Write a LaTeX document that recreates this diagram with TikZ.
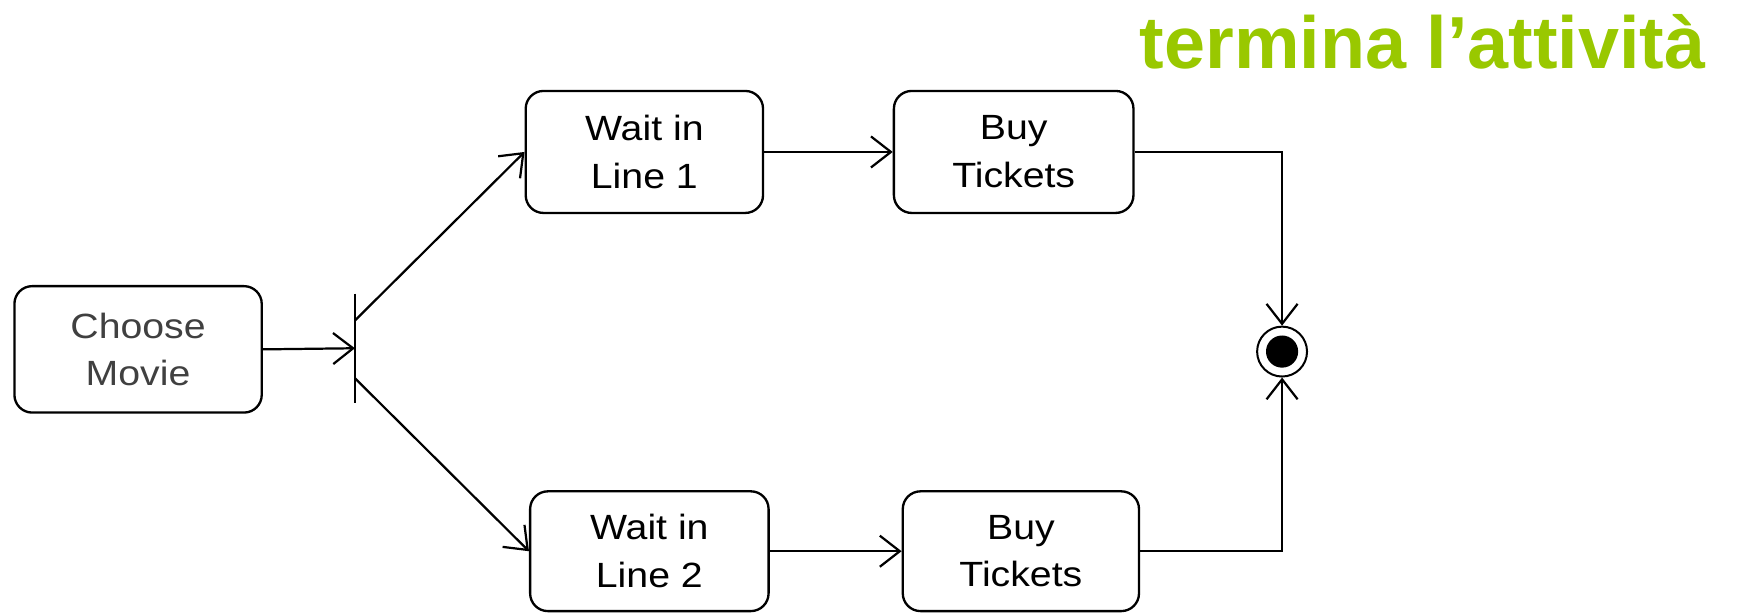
\documentclass[tikz,border=0pt]{standalone}
\usepackage{fontspec}
\setmainfont{Liberation Sans}
\newfontfamily\boxfont[FakeStretch=1.12]{Liberation Sans}
\usetikzlibrary{arrows.meta}
\definecolor{titlegreen}{RGB}{153,200,0}
\definecolor{softgray}{RGB}{64,64,64}
\tikzset{
  activity/.style={draw, line width=2.1pt, rounded corners=16pt, align=center,
    inner sep=0pt, font=\boxfont\fontsize{31.6}{43}\selectfont},
  flow/.style={line width=2pt, -{Straight Barb[length=18pt,width=28pt]}},
  plain/.style={line width=2pt},
}
\begin{document}
\begin{tikzpicture}[x=1pt,y=-1pt]
\useasboundingbox (0,0) rectangle (1568,552.7);
% title
\node[anchor=base east, inner sep=0pt, text=titlegreen,
      font=\bfseries\fontsize{66.5}{70}\selectfont] (title) at (1538,62) {termina l’attività};
% activities
\node[activity, minimum width=223pt, minimum height=114pt, text=softgray] (choose) at (124.5,315) {Choose\\Movie};
\node[activity, minimum width=214pt, minimum height=110pt] (wait1) at (581,137) {Wait in\\Line 1};
\node[activity, minimum width=216pt, minimum height=110pt] (buy1) at (914,137) {Buy\\Tickets};
\node[activity, minimum width=215pt, minimum height=108pt] (wait2) at (585.5,497) {Wait in\\Line 2};
\node[activity, minimum width=213pt, minimum height=108pt] (buy2) at (920.5,497) {Buy\\Tickets};
% fork bar
\node[inner sep=0pt, minimum width=0pt, minimum height=98pt] (bar) at (320,314) {};
\draw[plain] (bar.north) -- (bar.south);
\coordinate (b1) at (320,289);
\coordinate (b2) at (320,341);
% final node
\node[circle, draw, line width=1.8pt, minimum size=45pt, inner sep=0pt] (fin) at (1156,317) {};
\fill (fin.center) circle (14.5pt);
% flows
\draw[flow] (choose.east) -- (bar.center);
\draw[flow] (b1) -- (wait1.west);
\draw[flow] (b2) -- (wait2.west);
\draw[flow] (wait1.east) -- (buy1.west);
\draw[flow] (wait2.east) -- (buy2.west);
\draw[flow] (buy1.east) -| (fin.north);
\draw[flow] (buy2.east) -| (fin.south);
\end{tikzpicture}
\end{document}
